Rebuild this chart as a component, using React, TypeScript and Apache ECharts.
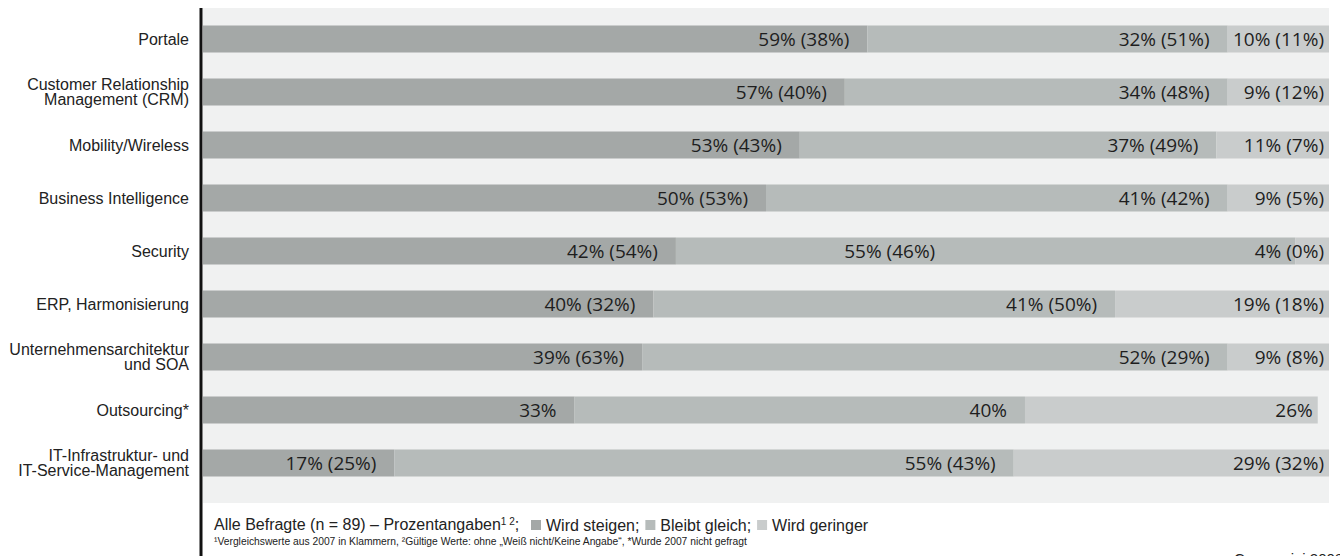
import React, { useEffect, useRef } from 'react';
import * as echarts from 'echarts';

const categories = [
  'Portale',
  'Customer Relationship\nManagement (CRM)',
  'Mobility/Wireless',
  'Business Intelligence',
  'Security',
  'ERP, Harmonisierung',
  'Unternehmensarchitektur\nund SOA',
  'Outsourcing*',
  'IT-Infrastruktur- und\nIT-Service-Management',
];
const seriesNames = ['Wird steigen', 'Bleibt gleich', 'Wird geringer'];
const steigen2008 = [59, 57, 53, 50, 42, 40, 39, 33, 17];
const steigen2007 = [38, 40, 43, 53, 54, 32, 63, null, 25];
const gleich2008 = [32, 34, 37, 41, 55, 41, 52, 40, 55];
const gleich2007 = [51, 48, 49, 42, 46, 50, 29, null, 43];
const geringer2008 = [10, 9, 11, 9, 4, 19, 9, 26, 29];
const geringer2007 = [11, 12, 7, 5, 0, 18, 8, null, 32];
const colors = ['#a4a8a7', '#b6bbba', '#c9cccc'];

const legendPrefix = 'Alle Befragte (n = 89) – Prozentangaben';
const footnote =
  '¹Vergleichswerte aus 2007 in Klammern, ²Gültige Werte: ohne „Weiß nicht/Keine Angabe“, *Wurde 2007 nicht gefragt';
const sourceText = 'Capgemini 2008';

const SANS = 'Liberation Sans, Arial, sans-serif';
const LABEL_FONT = 'Open Sans, Noto Sans, sans-serif';

export default function App() {
  const ref = useRef<HTMLDivElement>(null);
  useEffect(() => {
    if (!ref.current) return;
    const chart = echarts.init(ref.current, undefined, { renderer: 'svg' });
    const current = [steigen2008, gleich2008, geringer2008];
    const previous = [steigen2007, gleich2007, geringer2007];
    const series = seriesNames.map((name, si) => ({
      name,
      type: 'bar',
      stack: 'total',
      barWidth: 27,
      itemStyle: { color: colors[si] },
      emphasis: { disabled: true },
      data: current[si].map((v, i) =>
        // the "Security" middle label sits further left in the original, clear of the small label
        si === 1 && i === 4 ? { value: v, label: { distance: 360 } } : v
      ),
      label: {
        show: true,
        position: 'insideRight',
        distance: si === 2 ? 5 : 18,
        fontFamily: LABEL_FONT,
        fontSize: 19,
        color: '#1e1e1e',
        formatter: (p: any) => {
          const prev = previous[si][p.dataIndex];
          return prev === null ? `${p.value}%` : `${p.value}% (${prev}%)`;
        },
      },
    }));
    chart.setOption({
      animation: false,
      grid: { left: 203, right: 11, top: 12.5, height: 477, containLabel: false },
      xAxis: { type: 'value', min: 0, max: 100, show: false },
      yAxis: {
        type: 'category',
        data: categories,
        inverse: true,
        axisLine: { show: false },
        axisTick: { show: false },
        splitLine: { show: false },
        axisLabel: {
          margin: 14,
          fontFamily: SANS,
          fontSize: 16,
          lineHeight: 15,
          color: '#222',
          align: 'right',
        },
      },
      legend: {
        data: seriesNames,
        left: 531,
        top: 517,
        padding: 0,
        itemGap: 6,
        itemWidth: 10,
        itemHeight: 10,
        icon: 'rect',
        selectedMode: false,
        formatter: (name: string) => (name === seriesNames[2] ? name : name + ';'),
        textStyle: { fontFamily: SANS, fontSize: 16, color: '#222' },
      },
      graphic: [
        {
          type: 'rect',
          z: -10,
          silent: true,
          shape: { x: 203, y: 8, width: 1126, height: 495 },
          style: { fill: '#f0f1f1' },
        },
        {
          type: 'line',
          silent: true,
          shape: { x1: 201, y1: 8, x2: 201, y2: 556 },
          style: { stroke: '#111', lineWidth: 3 },
        },
        {
          type: 'text',
          x: 214,
          y: 516,
          style: {
            text: `${legendPrefix}{sup|1 2}; `,
            fontFamily: SANS,
            fontSize: 16,
            fill: '#222',
            rich: {
              sup: { fontSize: 10, verticalAlign: 'top', fontFamily: SANS, fill: '#222' },
            },
          },
        },
        {
          type: 'text',
          x: 214,
          y: 536,
          style: { text: footnote, fontFamily: SANS, fontSize: 10.3, fill: '#222' },
        },
        {
          type: 'text',
          x: 1234,
          y: 551,
          style: { text: sourceText, fontFamily: SANS, fontSize: 15, fill: '#222' },
        },
      ],
      series,
    });
    return () => chart.dispose();
  }, []);
  return <div ref={ref} style={{ position: 'absolute', left: 0, top: 0, width: 1340, height: 556 }} />;
}
